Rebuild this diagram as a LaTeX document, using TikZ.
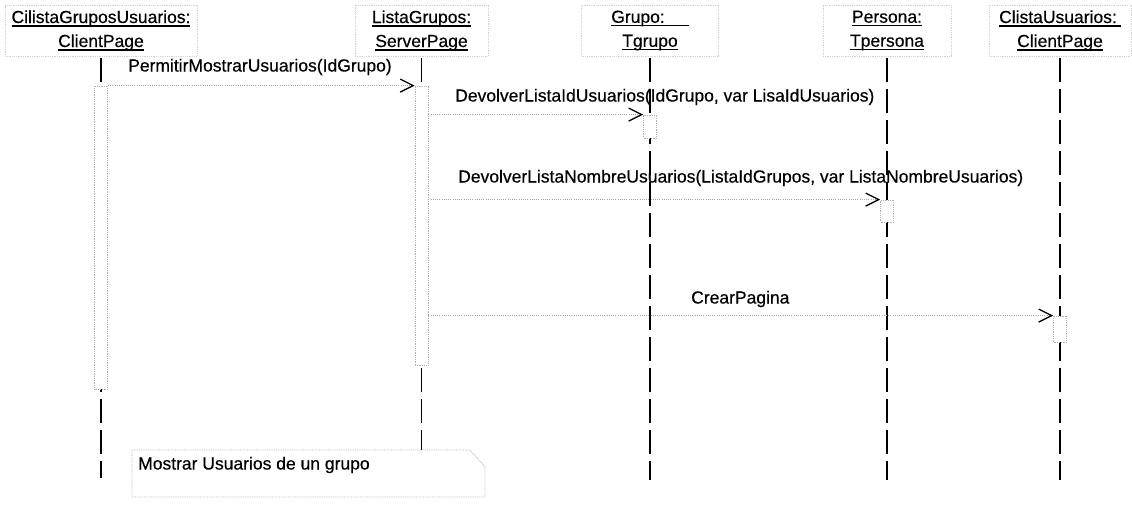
\documentclass[tikz,border=0pt]{standalone}
\usepackage{fontspec}
\setmainfont{Liberation Sans}[UprightFeatures={FakeBold=0.4}]
\usetikzlibrary{arrows.meta}
% underlined text with a thicker rule than \underline gives
\newcommand\ultext[1]{\setbox0\hbox{#1}\leavevmode\rlap{\rule[-3.5pt]{\wd0}{1.1pt}}\box0}
\begin{document}
\begin{tikzpicture}[x=1pt,y=-1pt,
  every node/.style={font=\fontsize{17.5}{24}\selectfont},
  headbox/.style={draw=gray!35, densely dotted, line width=0.8pt, inner sep=0pt,
    align=center, minimum height=51pt},
  life/.style={line width=1.4pt, dash pattern=on 24pt off 7pt, shorten <=2pt},
  act/.style={draw=gray!60, densely dotted, line width=0.8pt, fill=white,
    minimum width=13pt, inner sep=0pt},
  msg/.style={draw=gray!70, dash pattern=on 1pt off 1.2pt, line width=0.9pt,
    -{Straight Barb[length=13pt,width=13pt,line width=1.3pt,color=black]}},
  lbl/.style={anchor=west, inner sep=0pt},
  notebox/.style={draw=gray!60, densely dotted, line width=0.8pt},
  ]
\useasboundingbox (0,0) rectangle (1132,508);

% object heads
\node[headbox, minimum width=192pt] (h1) at (101,30.5)
  {\ultext{CilistaGruposUsuarios:}\\\ultext{ClientPage}};
\node[headbox, minimum width=133pt] (h2) at (421.5,30.5)
  {\ultext{ListaGrupos:}\\\ultext{ServerPage}};
\node[headbox, minimum width=137pt] (h3) at (650,30.5)
  {\ultext{Grupo:\hspace{24pt}}\\\ultext{Tgrupo}};
\node[headbox, minimum width=128pt] (h4) at (887,30.5)
  {\ultext{Persona:}\\\ultext{Tpersona}};
\node[headbox, minimum width=142pt] (h5) at (1060,30.5)
  {\ultext{ClistaUsuarios:\hspace{4pt}}\\\ultext{ClientPage}};

% lifeline ends
\coordinate (e1) at (101,478);
\coordinate (e2) at (421.5,450);
\coordinate (e3) at (650,480);
\coordinate (e4) at (887,480);
\coordinate (e5) at (1060,480);

\draw[life] (h1.south) -- (e1);
\draw[life] (h2.south) -- (e2);
\draw[life] (h3.south) -- (e3);
\draw[life] (h4.south) -- (e4);
\draw[life] (h5.south) -- (e5);

% activations
\node[act, minimum height=303pt] (a1) at (101,237.5) {};
\node[act, minimum height=279pt] (a2) at (421.5,225.5) {};
\node[act, minimum height=23pt] (a3) at (650,126.5) {};
\node[act, minimum height=22pt] (a4) at (887,211) {};
\node[act, minimum height=26pt] (a5) at (1060,329) {};

% messages
\draw[msg] (a1.north east) -- (a2.north west);
\draw[msg] (a2.east |- a3.north) -- (a3.north west);
\draw[msg] (a2.east |- a4.north) -- (a4.north west);
\draw[msg] (a2.east |- a5.north) -- (a5.north west);

\node[lbl] (l1) at (128,67) {PermitirMostrarUsuarios(IdGrupo)};
\node[lbl] (l2) at (455,97) {DevolverListaIdUsuarios(IdGrupo, var LisaIdUsuarios)};
\node[lbl] (l3) at (458,178) {DevolverListaNombreUsuarios(ListaIdGrupos, var ListaNombreUsuarios)};
\node[lbl] (l4) at (691,299) {CrearPagina};

% note with folded corner
\draw[notebox, fill=white] (132,450) -- (470,450) -- (485,467) -- (485,497) -- (132,497) -- cycle;
\node[lbl] (nt) at (138,465) {Mostrar Usuarios de un grupo};
\end{tikzpicture}
\end{document}
